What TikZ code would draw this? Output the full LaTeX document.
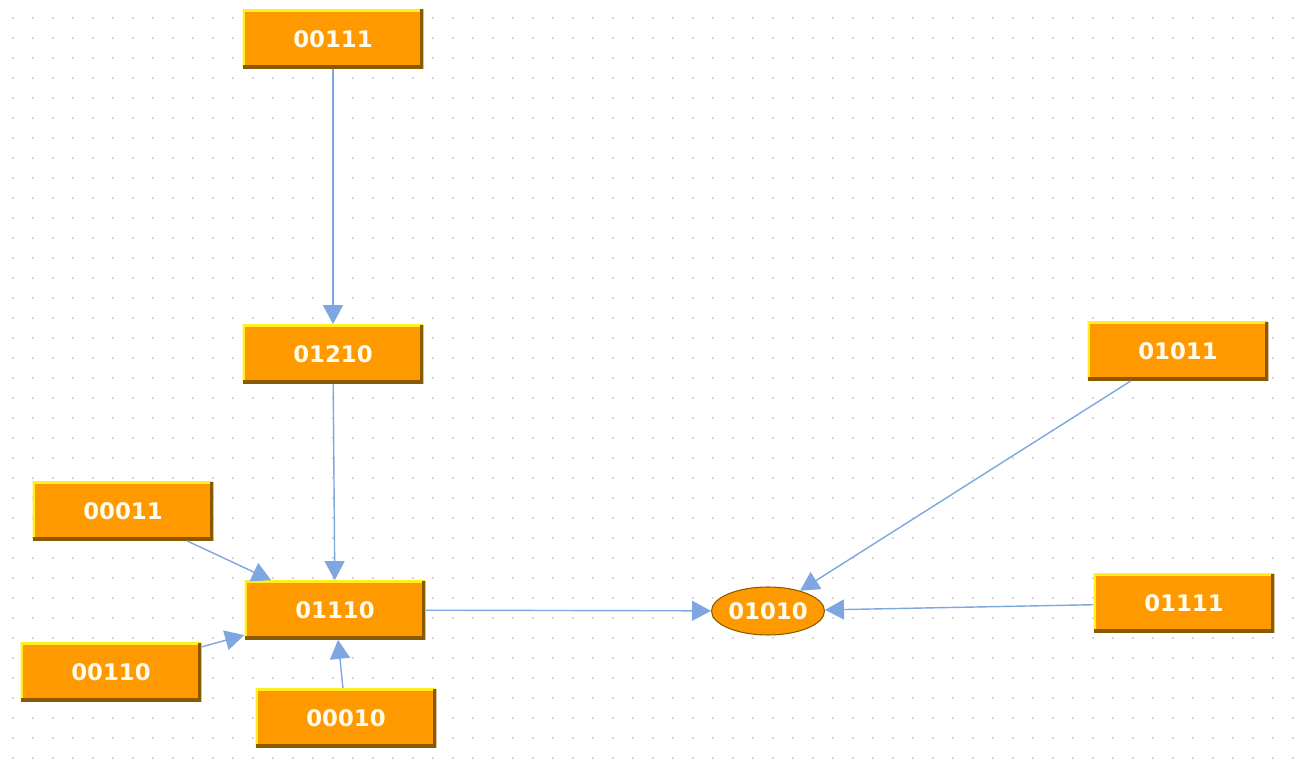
\documentclass[tikz,border=0pt]{standalone}
\usepackage{fontspec}
\setmainfont{DejaVu Sans}
\usetikzlibrary{arrows.meta, shapes.geometric}

\definecolor{boxorange}{HTML}{FF9900}
\definecolor{boxyellow}{HTML}{FFEE22}
\definecolor{boxbrown}{HTML}{8A5A00}
\definecolor{flowblue}{HTML}{7EA6E0}
\definecolor{dotgray}{HTML}{C8C8C8}
\definecolor{labelwhite}{HTML}{FFFBEA}

\tikzset{
  state/.style={fill=boxorange, minimum width=3.62cm, minimum height=1.18cm,
    inner sep=0pt, text=labelwhite, font=\bfseries\fontsize{13}{15}\selectfont,
    path picture={
      \draw[boxyellow, line width=3pt]
        (path picture bounding box.south west) -- (path picture bounding box.north west)
        -- (path picture bounding box.north east);
      \draw[boxbrown, line width=4pt]
        (path picture bounding box.north east) -- (path picture bounding box.south east)
        -- (path picture bounding box.south west);
    }},
  goal/.style={ellipse, fill=boxorange, draw=boxbrown, line width=0.6pt,
    minimum width=2.26cm, minimum height=0.96cm, inner sep=0pt,
    text=labelwhite, font=\bfseries\fontsize{13}{15}\selectfont},
  flow/.style={draw=flowblue, line width=0.8pt,
    -{Triangle[length=0.38cm, width=0.4cm]}}
}

\begin{document}
\begin{tikzpicture}[x=0.02cm, y=-0.02cm]
  \useasboundingbox (0, 0) rectangle (1303, 776);
  % dotted background
  \foreach \i in {0,...,64} {
    \foreach \j in {0,...,37} {
      \fill[dotgray] (13+20*\i, 18+20*\j) circle (0.6pt);
    }
  }
  \node[state] (s00111) at (333, 39) {00111};
  \node[state] (s01210) at (333, 354) {01210};
  \node[state] (s00011) at (123, 511) {00011};
  \node[state] (s01110) at (335, 610) {01110};
  \node[state] (s00110) at (111, 672) {00110};
  \node[state] (s00010) at (346, 718) {00010};
  \node[state] (s01011) at (1178, 351) {01011};
  \node[state] (s01111) at (1184, 603) {01111};
  \node[goal] (s01010) at (768, 611) {01010};
  \draw
  (s00111) edge[flow] (s01210)
  (s01210) edge[flow] (s01110)
  (s00011) edge[flow] (s01110)
  (s00110) edge[flow] (s01110)
  (s00010) edge[flow] (s01110)
  (s01110) edge[flow] (s01010)
  (s01011) edge[flow] (s01010)
  (s01111) edge[flow] (s01010);
\end{tikzpicture}
\end{document}
